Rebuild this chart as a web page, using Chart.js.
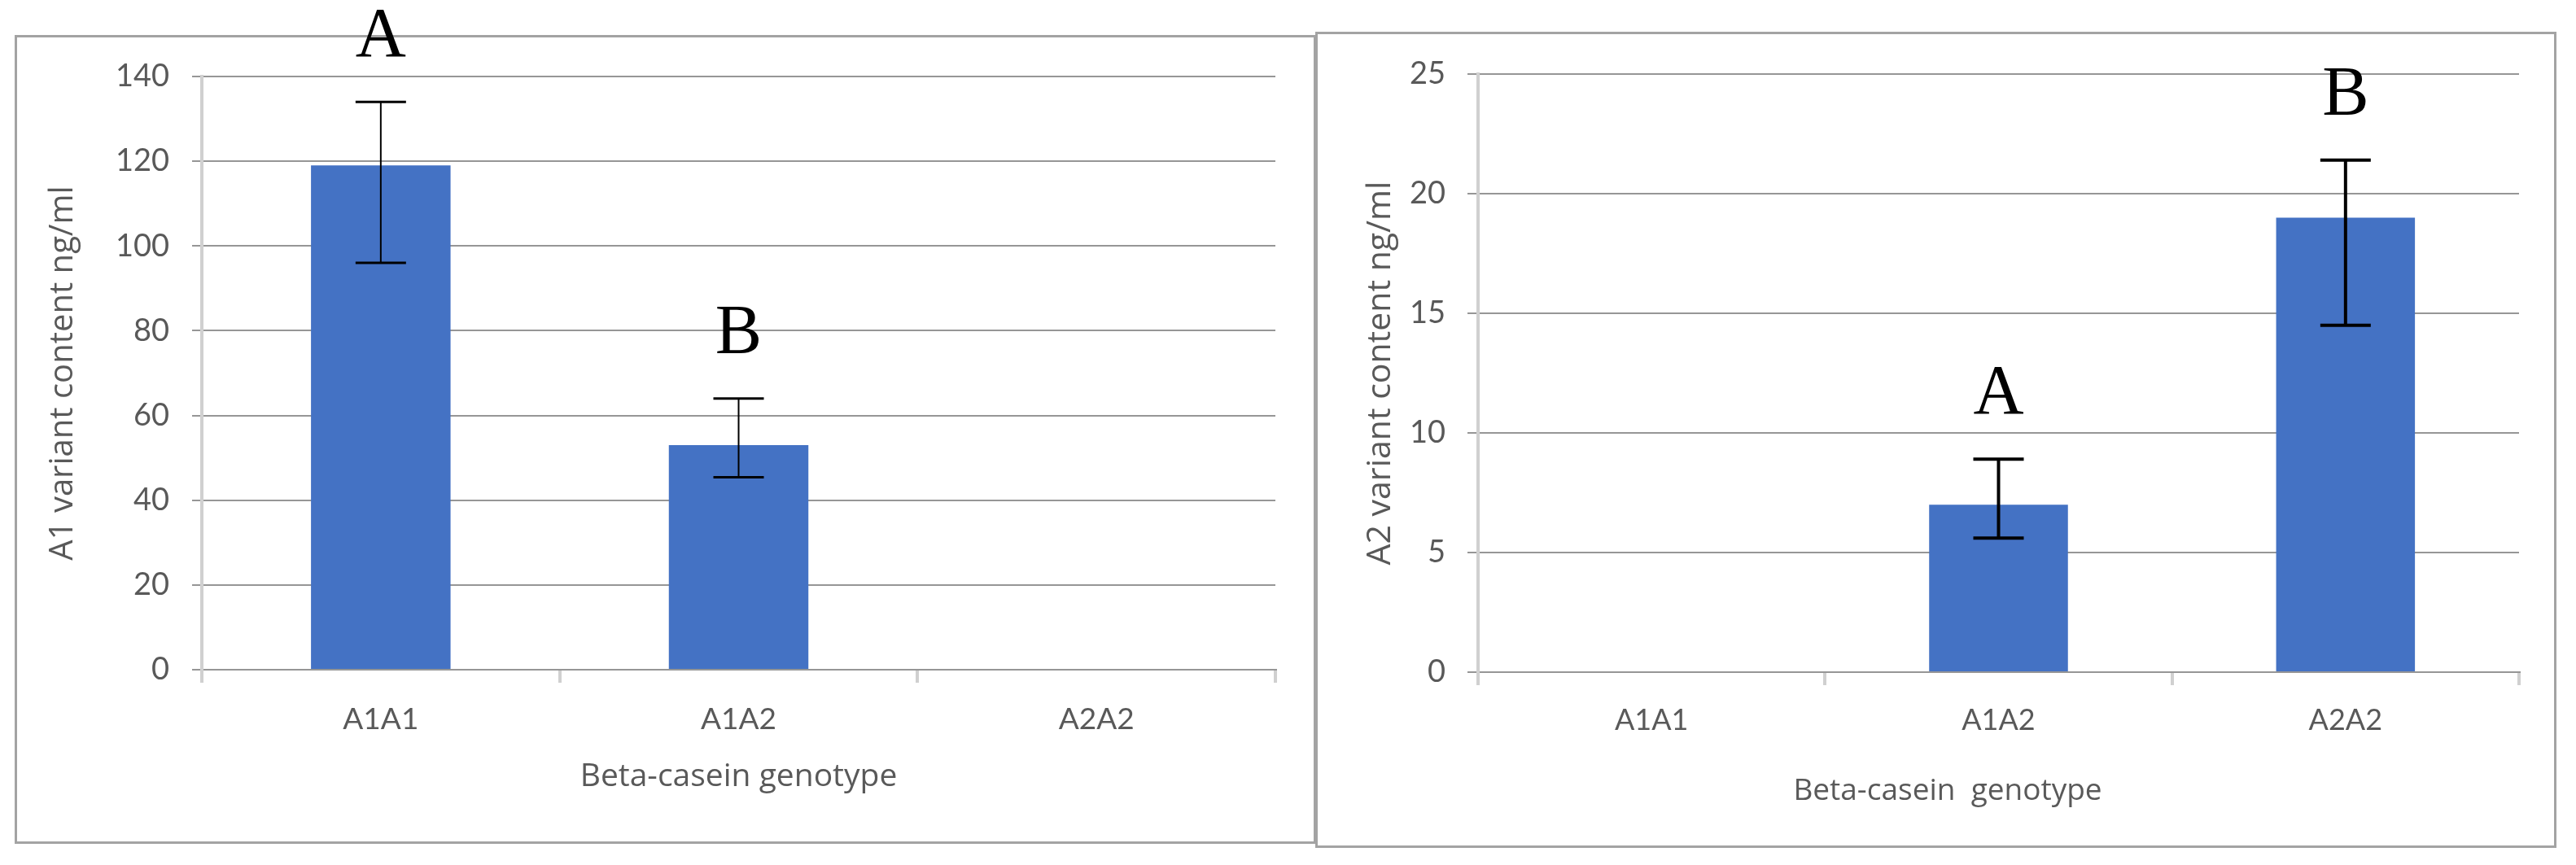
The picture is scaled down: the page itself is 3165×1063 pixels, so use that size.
<!DOCTYPE html>
<html>
<head>
<meta charset="utf-8">
<script src="https://cdn.jsdelivr.net/npm/chart.js@4.4.1/dist/chart.umd.min.js"></script>
<style>
  html, body { margin: 0; padding: 0; background: #fff; }
  body { width: 3165px; height: 1063px; position: relative; overflow: hidden; }
  .panel { position: absolute; box-sizing: border-box; border: 3px solid #a3a3a3; }
  canvas { position: absolute; left: 0; top: 0; }
</style>
</head>
<body>
<div class="panel" style="left:18px; top:43px; width:1599px; height:994px;"></div>
<div class="panel" style="left:1616px; top:39px; width:1525px; height:1003px;"></div>
<canvas id="a1Chart" width="3165" height="1063"></canvas>
<canvas id="a2Chart" width="3165" height="1063"></canvas>
<script>
const genotypes = ['A1A1', 'A1A2', 'A2A2'];

// A1 variant (left panel)
const a1Means = [119, 53, 0];
const a1Upper = [134, 64, null];
const a1Lower = [96, 45.4, null];
const a1Letters = ['A', 'B', ''];
const a1Ticks = [0, 20, 40, 60, 80, 100, 120, 140];

// A2 variant (right panel)
const a2Means = [0, 7, 19];
const a2Upper = [null, 8.9, 21.4];
const a2Lower = [null, 5.6, 14.5];
const a2Letters = ['', 'A', 'B'];
const a2Ticks = [0, 5, 10, 15, 20, 25];

const barColor = '#4472C4';
const gridColor = '#969696';
const axisColor = '#d0d0d0';
const textColor = '#595959';

// draws the error bars and the significance letters above them
const errorBars = {
  id: 'errorBars',
  afterDatasetsDraw(chart, args, opts) {
    const { ctx } = chart;
    const x = chart.scales.x;
    const y = chart.scales.y;
    ctx.save();
    ctx.strokeStyle = '#000';
    opts.upper.forEach((hi, i) => {
      if (hi == null) return;
      const cx = x.getPixelForValue(i);
      const yHi = y.getPixelForValue(hi);
      const yLo = y.getPixelForValue(opts.lower[i]);
      ctx.lineWidth = opts.lineWidth;
      ctx.beginPath();
      ctx.moveTo(cx, yHi);
      ctx.lineTo(cx, yLo);
      ctx.stroke();
      ctx.lineWidth = opts.capWidth;
      ctx.beginPath();
      ctx.moveTo(cx - opts.cap / 2, yHi);
      ctx.lineTo(cx + opts.cap / 2, yHi);
      ctx.moveTo(cx - opts.cap / 2, yLo);
      ctx.lineTo(cx + opts.cap / 2, yLo);
      ctx.stroke();
      const letter = opts.letters[i];
      if (letter) {
        ctx.fillStyle = '#000';
        ctx.font = '86px "Liberation Serif", serif';
        ctx.textAlign = 'center';
        ctx.textBaseline = 'alphabetic';
        ctx.fillText(letter, cx, yHi - 56);
      }
    });
    ctx.restore();
  }
};

const makeChart = (id, cfg) => {
  const ticks = cfg.ticks;
  new Chart(document.getElementById(id), {
    type: 'bar',
    data: {
      labels: genotypes,
      datasets: [{
        data: cfg.means,
        backgroundColor: barColor,
        barPercentage: cfg.barPct,
        categoryPercentage: 1,
      }],
    },
    options: {
      responsive: false,
      animation: false,
      devicePixelRatio: 1,
      layout: { padding: cfg.padding },
      plugins: {
        legend: { display: false },
        tooltip: { enabled: false },
        errorBars: {
          upper: cfg.upper,
          lower: cfg.lower,
          letters: cfg.letters,
          lineWidth: cfg.errLine,
          capWidth: cfg.capLine,
          cap: 62,
        },
      },
      scales: {
        x: {
          grid: {
            drawOnChartArea: false,
            drawTicks: true,
            tickLength: 16,
            color: axisColor,
            lineWidth: 4,
          },
          border: { display: true, color: gridColor, width: 2 },
          ticks: {
            color: textColor,
            font: { family: 'Lato', size: cfg.xTickSize },
            padding: cfg.xTickPad,
            maxRotation: 0,
          },
          title: {
            display: true,
            text: cfg.xTitle,
            color: textColor,
            font: { family: 'Open Sans', size: cfg.xTitleSize },
            padding: { top: 0, bottom: cfg.xTitlePad },
          },
          afterFit: (s) => { s.height = 211; },
        },
        y: {
          min: ticks[0],
          max: ticks[ticks.length - 1],
          grid: {
            color: gridColor,
            lineWidth: 2,
            tickLength: cfg.yTickLen,
          },
          border: { display: true, color: axisColor, width: 4 },
          ticks: {
            stepSize: ticks[1] - ticks[0],
            color: textColor,
            font: { family: 'Lato', size: 38 },
            padding: cfg.yTickPad,
          },
          title: {
            display: true,
            text: cfg.yTitle,
            color: textColor,
            font: { family: 'Open Sans', size: cfg.yTitleSize },
            padding: { top: cfg.yTitlePad, bottom: 0 },
          },
          afterFit: (s) => { s.width = cfg.yWidth; },
        },
      },
    },
    plugins: [errorBars],
  });
};

makeChart('a1Chart', {
  means: a1Means, upper: a1Upper, lower: a1Lower, letters: a1Letters, ticks: a1Ticks,
  barPct: 0.39,
  padding: { left: 21, top: 94, right: 1598, bottom: 29 },
  yWidth: 227, yTickLen: 12, yTickPad: 28,
  yTitle: 'A1 variant content ng/ml', yTitleSize: 40, yTitlePad: 33,
  xTitle: 'Beta-casein genotype', xTitleSize: 39, xTitlePad: 56,
  xTickSize: 37, xTickPad: 23,
  errLine: 2, capLine: 3,
});

// trailing spaces keep this title a little left of centre, as in the original
makeChart('a2Chart', {
  means: a2Means, upper: a2Upper, lower: a2Lower, letters: a2Letters, ticks: a2Ticks,
  barPct: 0.40,
  padding: { left: 1619, top: 91, right: 70, bottom: 26 },
  yWidth: 197, yTickLen: 13, yTickPad: 27,
  yTitle: 'A2 variant content ng/ml', yTitleSize: 41, yTitlePad: 53,
  xTitle: 'Beta-casein  genotype             ', xTitleSize: 37, xTitlePad: 42,
  xTickSize: 36, xTickPad: 22,
  errLine: 4, capLine: 4,
});
</script>
</body>
</html>
